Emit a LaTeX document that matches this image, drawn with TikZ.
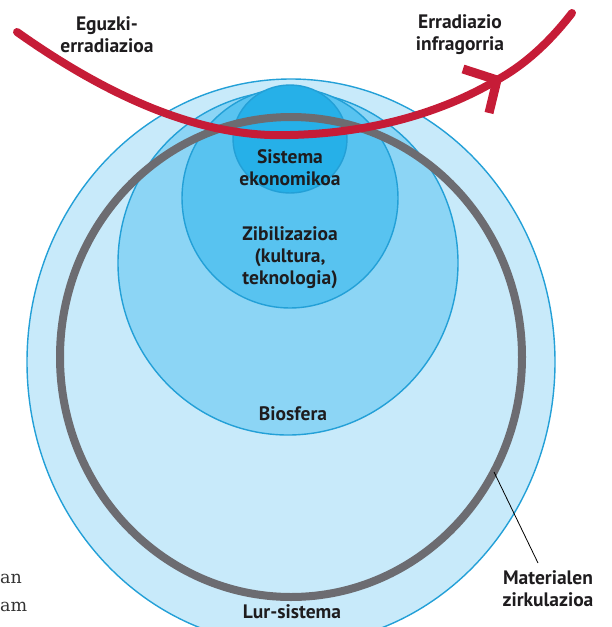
\documentclass[tikz,border=0pt]{standalone}
\usepackage{fontspec}
\setmainfont{PT Sans}
\newfontfamily\serifside{DejaVu Serif}
\definecolor{lurfill}{RGB}{200,234,250}
\definecolor{biofill}{RGB}{140,213,245}
\definecolor{civfill}{RGB}{88,195,240}
\definecolor{ecofill}{RGB}{38,176,232}
\definecolor{edgeblue}{RGB}{35,160,215}
\definecolor{ringgray}{RGB}{108,108,113}
\definecolor{sunred}{RGB}{198,28,55}
\definecolor{labeltext}{RGB}{30,28,30}
\tikzset{
  layer/.style={draw=edgeblue, line width=1.4pt},
  lbl/.style={text=labeltext, font=\fontsize{19.5}{22}\selectfont\bfseries, align=center, inner sep=0pt},
  sidetext/.style={text=black!80, font=\serifside\fontsize{17.5}{20}\selectfont, inner sep=0pt, anchor=base west},
  ray/.style={draw=sunred, line width=8pt},
}
\begin{document}
\begin{tikzpicture}[x=1pt,y=-1pt]
\useasboundingbox (0,0) rectangle (611,627);
\clip (0,0) rectangle (611,627);
% nested spheres
\draw[layer, fill=lurfill] (291,362) ellipse [x radius=264, y radius=283];
\draw[layer, fill=biofill] (288,263) ellipse [x radius=170, y radius=172];
\draw[layer, fill=civfill] (290,198) ellipse [x radius=108, y radius=110];
\draw[layer, fill=ecofill] (290,139) ellipse [x radius=57, y radius=54];
% material circulation ring
\draw[draw=ringgray, line width=8pt] (291,357) ellipse [x radius=231, y radius=240];
% radiation curve
\coordinate (sunstart) at (17,32);
\coordinate (low) at (290,135);
\coordinate (tip) at (497,80);
\coordinate (irend) at (572,13);
\draw[ray, line cap=round] (sunstart) .. controls (120,105) and (210,138) .. (low)
   .. controls (380,133) and (450,108) .. (tip)
   .. controls (530,62) and (555,35) .. (irend);
\draw[ray, line width=9pt, line join=miter] (463,69) -- (tip) -- (489,113);
% labels
\node[lbl] (eguzki) at (107,35) {Eguzki-\\erradiazioa};
\node[lbl] (infra) at (460,35) {Erradiazio\\infragorria};
\node[lbl] (eko) at (290,168) {Sistema\\ekonomikoa};
\node[lbl] (zibil) at (290,258) {Zibilizazioa\\(kultura,\\teknologia)};
\node[lbl] (bio) at (293,414) {Biosfera};
\node[lbl] (lur) at (292,612) {Lur-sistema};
\node[lbl] (mat) at (548,589) {Materialen\\zirkulazioa};
\coordinate (ringpt) at (494,472);
\coordinate (matpt) at (538,563);
\draw[black, line width=0.8pt] (ringpt) -- (matpt);
% side text
\node[sidetext] (sidea) at (0,583) {an};
\node[sidetext] (sideb) at (0,611) {am};
\end{tikzpicture}
\end{document}
